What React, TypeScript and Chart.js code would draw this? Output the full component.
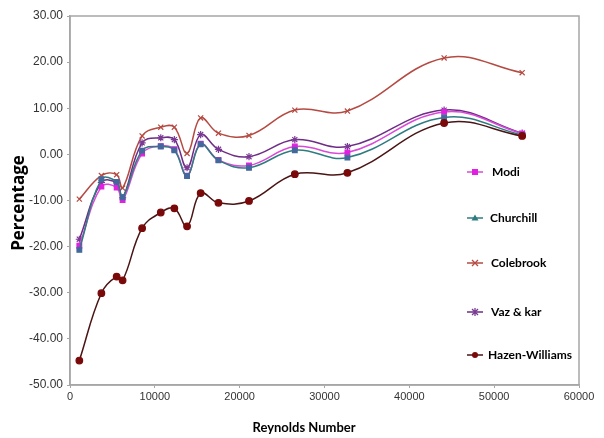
import React, { useEffect, useRef } from "react";
import { Chart, registerables } from "chart.js";

Chart.register(...registerables);

// Reynolds numbers of the test runs
const reynolds = [1100, 3700, 5500, 6200, 8500, 10700, 12300, 13800, 15400, 17500, 21100, 26500, 32700, 44100, 53300];

// Percentage deviation per friction-factor correlation
const modi = [-19.8, -7.0, -7.2, -9.9, 0.2, 1.8, 1.1, -4.6, 2.3, -1.2, -2.4, 1.7, 0.4, 9.2, 4.5];
const churchill = [-20.7, -5.4, -6.0, -9.3, 0.8, 1.7, 0.9, -4.7, 2.2, -1.3, -2.9, 0.9, -0.7, 8.0, 4.2];
const colebrook = [-9.7, -4.6, -4.4, -7.3, 4.0, 5.9, 5.9, 0.2, 7.9, 4.6, 4.1, 9.6, 9.4, 20.9, 17.7];
const vazKar = [-18.4, -6.1, -6.2, -9.4, 2.5, 3.6, 3.2, -2.9, 4.3, 1.1, -0.5, 3.2, 1.7, 9.6, 4.6];
const hazenWilliams = [-44.7, -30.1, -26.5, -27.3, -16.0, -12.6, -11.7, -15.6, -8.4, -10.5, -10.1, -4.3, -4.0, 6.8, 4.0];

const seriesNames = ["Modi", "Churchill", "Colebrook", "Vaz & kar", "Hazen-Williams"];

const xTicks = [0, 10000, 20000, 30000, 40000, 50000, 60000];
const yTicks = [-50, -40, -30, -20, -10, 0, 10, 20, 30];

const toPoints = (ys: number[]) => reynolds.map((x, i) => ({ x, y: ys[i] }));

type Style = { line: string; marker: string; pointStyle: string; radius: number; legendStyle: string };
const styles: Style[] = [
  { line: "#D94AD9", marker: "#E020E0", pointStyle: "rect", radius: 3.3, legendStyle: "rect" },
  { line: "#2E7C80", marker: "#43699C", pointStyle: "rect", radius: 3.3, legendStyle: "triangle" },
  { line: "#B54A42", marker: "#B54A42", pointStyle: "crossRot", radius: 3.6, legendStyle: "crossRot" },
  { line: "#6E2C86", marker: "#7A3A94", pointStyle: "star", radius: 3.6, legendStyle: "star" },
  { line: "#4A1414", marker: "#7A0A0A", pointStyle: "circle", radius: 3.3, legendStyle: "circle" },
];

// small legend glyphs
function drawGlyph(ctx: CanvasRenderingContext2D, kind: string, x: number, y: number, color: string) {
  ctx.fillStyle = color;
  ctx.strokeStyle = color;
  ctx.lineWidth = 1.3;
  const r = 3;
  ctx.beginPath();
  if (kind === "rect") {
    ctx.fillRect(x - r, y - r, 2 * r, 2 * r);
  } else if (kind === "triangle") {
    ctx.moveTo(x, y - r - 0.5);
    ctx.lineTo(x + r + 0.5, y + r - 0.5);
    ctx.lineTo(x - r - 0.5, y + r - 0.5);
    ctx.closePath();
    ctx.fill();
  } else if (kind === "crossRot") {
    ctx.moveTo(x - r, y - r);
    ctx.lineTo(x + r, y + r);
    ctx.moveTo(x + r, y - r);
    ctx.lineTo(x - r, y + r);
    ctx.stroke();
  } else if (kind === "star") {
    ctx.moveTo(x, y - r - 1);
    ctx.lineTo(x, y + r + 1);
    ctx.moveTo(x - r, y - r);
    ctx.lineTo(x + r, y + r);
    ctx.moveTo(x + r, y - r);
    ctx.lineTo(x - r, y + r);
    ctx.stroke();
  } else {
    ctx.arc(x, y, r, 0, Math.PI * 2);
    ctx.fill();
  }
}

const frameAndLabels = {
  id: "frameAndLabels",
  afterDraw(chart: any) {
    const { ctx, chartArea } = chart;
    ctx.save();
    // plot frame
    ctx.strokeStyle = "#A6A6A6";
    ctx.lineWidth = 1.5;
    ctx.strokeRect(chartArea.left, chartArea.top, chartArea.right - chartArea.left, chartArea.bottom - chartArea.top);

    // axis titles
    ctx.fillStyle = "#000";
    ctx.font = "bold 13px Lato, 'Open Sans', sans-serif";
    ctx.textAlign = "center";
    ctx.textBaseline = "middle";
    ctx.fillText("Reynolds Number", 304, 428);
    ctx.save();
    ctx.translate(19, 203);
    ctx.rotate(-Math.PI / 2);
    ctx.font = "bold 17px 'Open Sans', Lato, sans-serif";
    ctx.fillText("Percentage", 0, 0);
    ctx.restore();

    // legend inside the plot
    const rows = [172, 218, 263, 312, 355];
    const textX = [492, 490, 491, 491, 488];
    ctx.font = "bold 12px Lato, 'Open Sans', sans-serif";
    ctx.textAlign = "left";
    seriesNames.forEach((name, i) => {
      const st = styles[i];
      const y = rows[i];
      ctx.strokeStyle = st.line;
      ctx.lineWidth = 1.5;
      ctx.beginPath();
      ctx.moveTo(467, y);
      ctx.lineTo(483, y);
      ctx.stroke();
      drawGlyph(ctx, st.legendStyle, 475, y, i === 1 ? st.line : st.marker);
      ctx.fillStyle = "#000";
      ctx.fillText(name, textX[i], y + 0.5);
    });
    ctx.restore();
  },
};

export default function App() {
  const canvasRef = useRef<HTMLCanvasElement | null>(null);

  useEffect(() => {
    if (!canvasRef.current) return;
    const series = [hazenWilliams, churchill, modi, vazKar, colebrook];
    const order = [4, 1, 0, 3, 2];
    const datasets = order.map((idx, k) => {
      const st = styles[idx];
      return {
        label: seriesNames[idx],
        data: toPoints(series[k]),
        borderColor: st.line,
        backgroundColor: st.marker,
        pointBackgroundColor: st.marker,
        pointBorderColor: st.marker,
        pointStyle: st.pointStyle as any,
        pointRadius: st.radius,
        pointBorderWidth: 1.2,
        borderWidth: 1.5,
        tension: 0.4,
        fill: false,
      };
    });

    const chart = new Chart(canvasRef.current, {
      type: "line",
      data: { datasets },
      options: {
        responsive: false,
        animation: false,
        layout: { padding: { left: 0, top: 16, right: 25, bottom: 0 } },
        plugins: { legend: { display: false }, tooltip: { enabled: false } },
        scales: {
          x: {
            type: "linear",
            min: 0,
            max: 60000,
            afterBuildTicks: (s: any) => {
              s.ticks = xTicks.map((v) => ({ value: v }));
            },
            afterFit: (s: any) => {
              s.height = 53;
            },
            ticks: {
              callback: (v: any) => String(v),
              font: { family: "'Liberation Sans Narrow', 'Liberation Sans', sans-serif", size: 11 },
              color: "#333",
              padding: 2,
              maxRotation: 0,
            },
            grid: { drawOnChartArea: false, tickLength: 3, color: "#A6A6A6" },
            border: { display: true, color: "#A6A6A6", width: 1.5 },
          },
          y: {
            type: "linear",
            min: -50,
            max: 30,
            afterBuildTicks: (s: any) => {
              s.ticks = yTicks.map((v) => ({ value: v }));
            },
            afterFit: (s: any) => {
              s.width = 70;
            },
            ticks: {
              callback: (v: any) => Number(v).toFixed(2),
              font: { family: "'Liberation Sans Narrow', 'Liberation Sans', sans-serif", size: 12 },
              color: "#333",
              padding: 4,
            },
            grid: { drawOnChartArea: false, tickLength: 3, color: "#A6A6A6" },
            border: { display: true, color: "#A6A6A6", width: 1.5 },
          },
        },
      },
      plugins: [frameAndLabels],
    });
    return () => chart.destroy();
  }, []);

  return (
    <div style={{ position: "absolute", left: 0, top: 0, width: 604, height: 438, background: "#fff" }}>
      <canvas ref={canvasRef} width={604} height={438} />
    </div>
  );
}
